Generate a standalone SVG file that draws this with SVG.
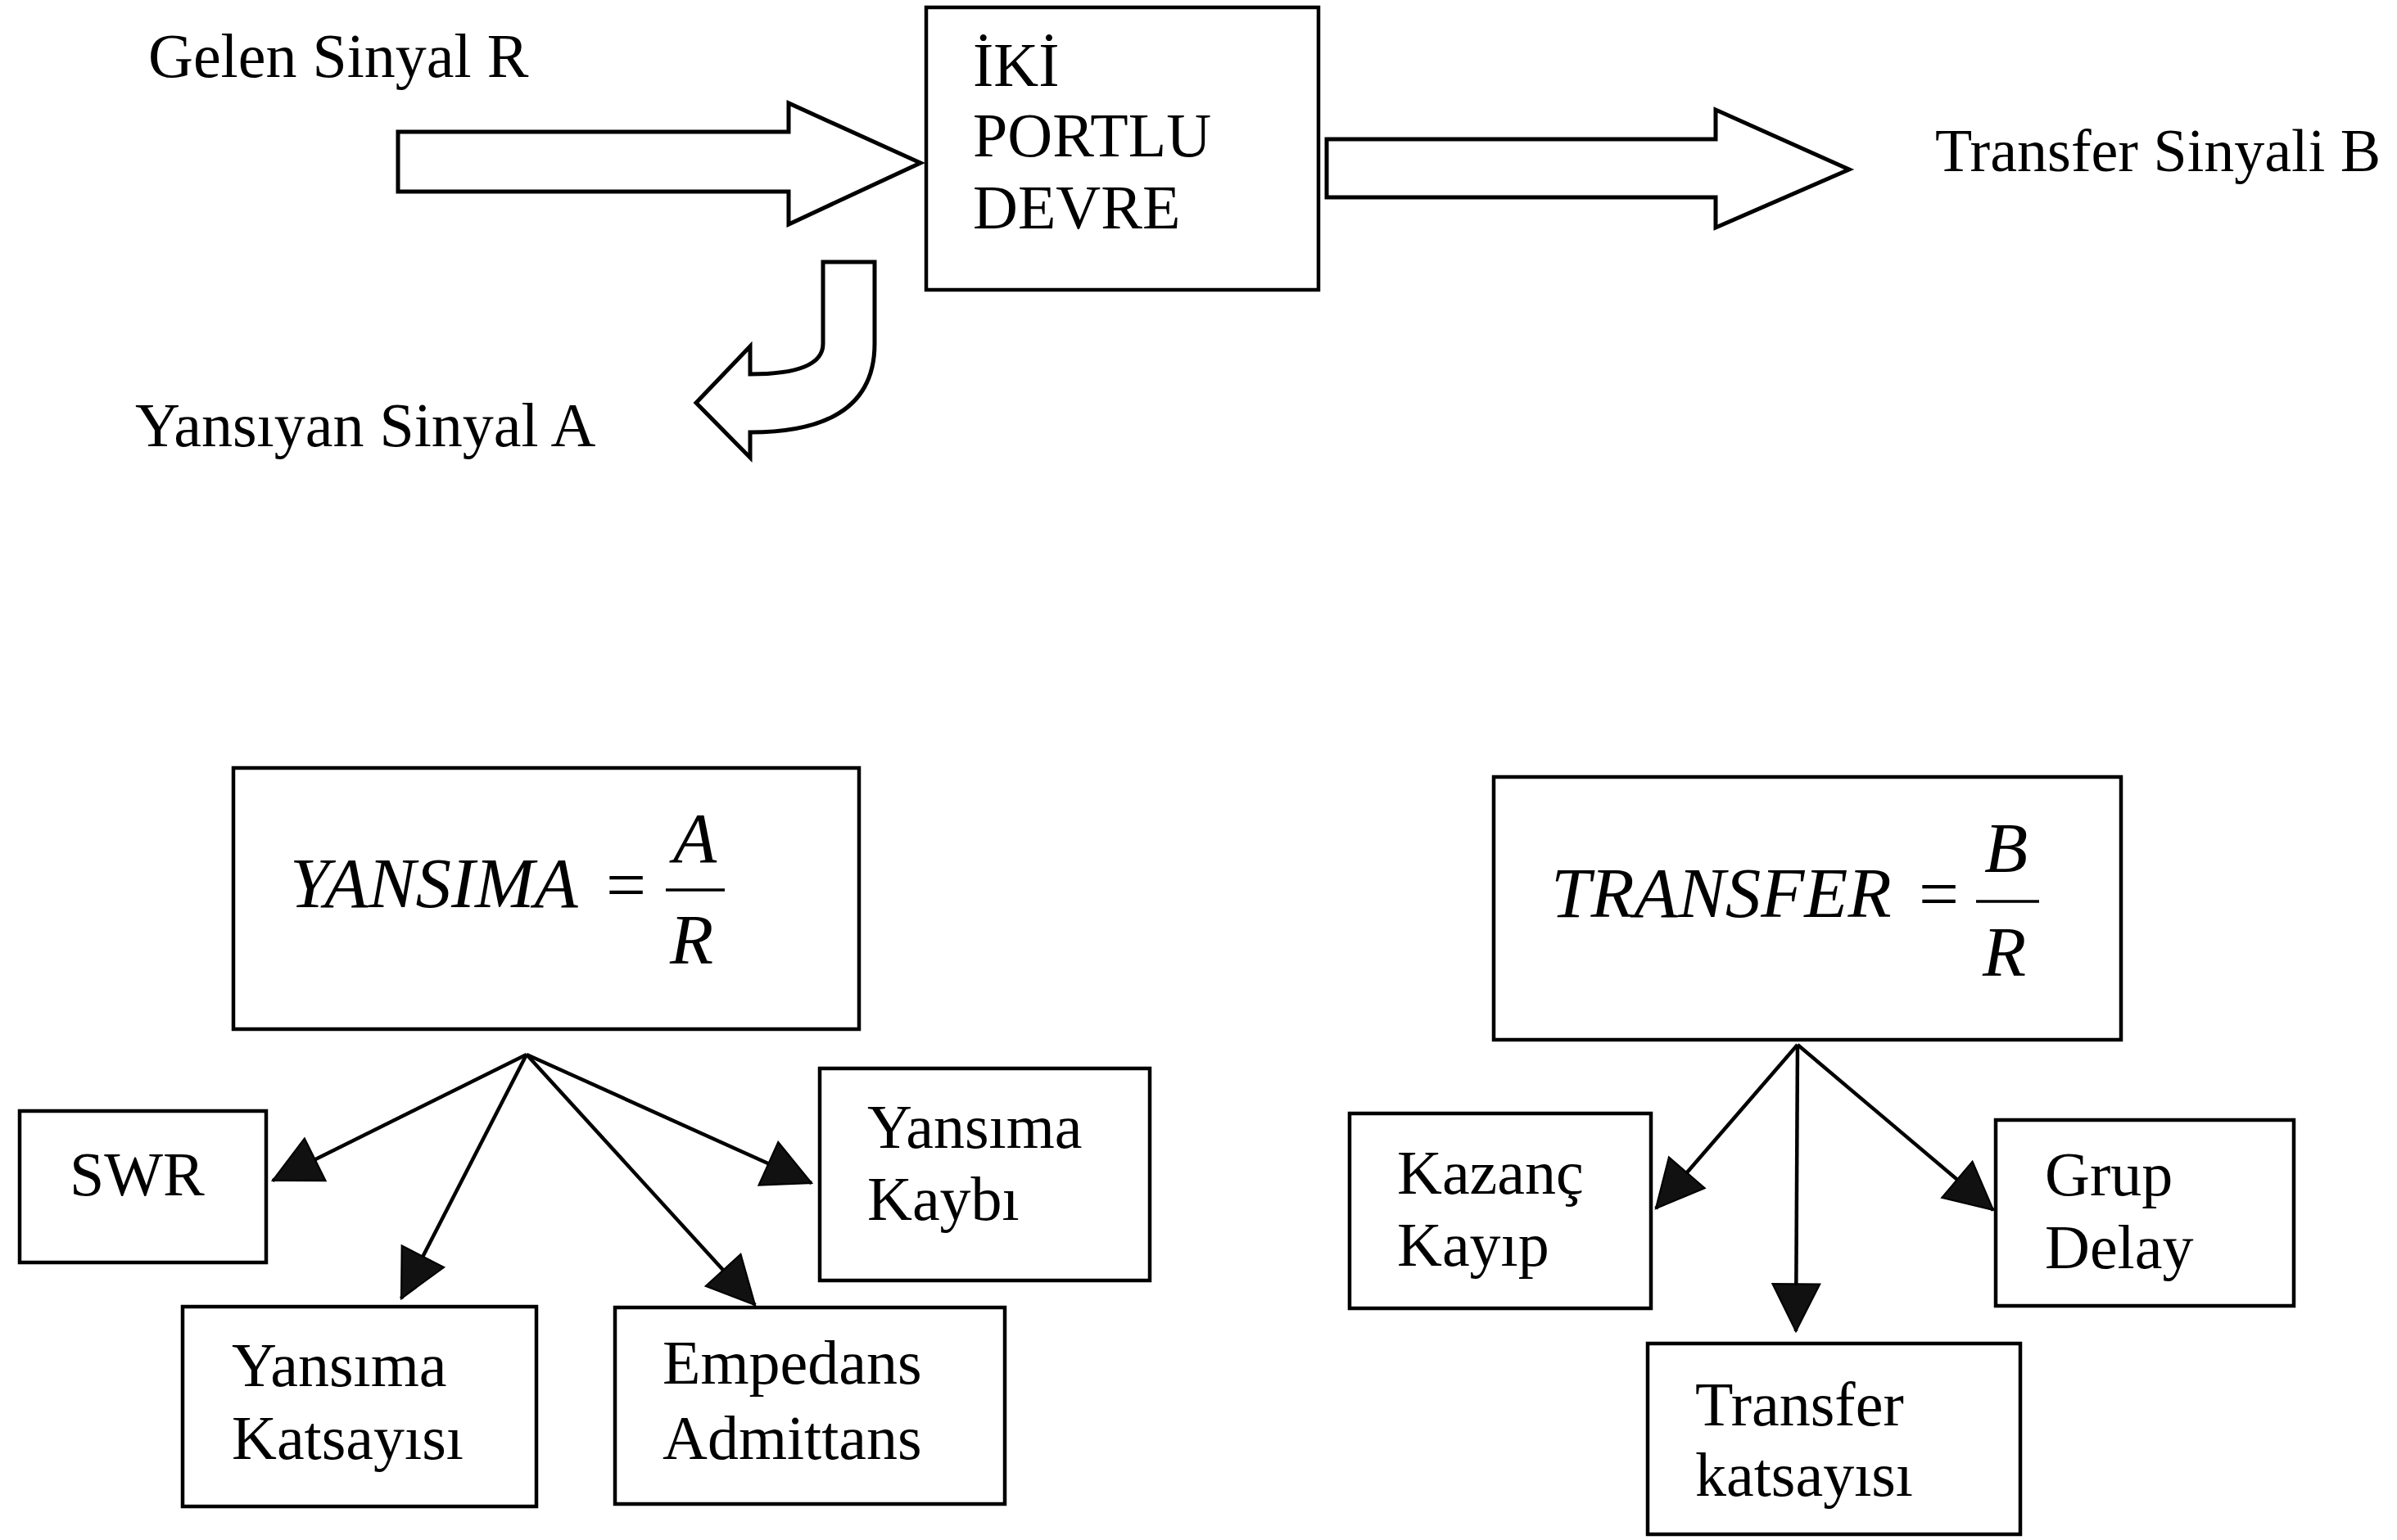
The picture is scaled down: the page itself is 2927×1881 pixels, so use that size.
<svg xmlns="http://www.w3.org/2000/svg" width="2927" height="1881" viewBox="0 0 2927 1881">
<style>
.box{fill:#fff;stroke:#000;stroke-width:4.5}
.blk{fill:#fff;stroke:#000;stroke-width:5;stroke-linejoin:miter}
.t{font-family:"Liberation Serif","Times New Roman",serif;font-size:76px;fill:#000}
.m{font-family:"Liberation Serif","Times New Roman",serif;font-size:87px;font-style:italic;fill:#000}
.eq{font-family:"Liberation Serif","Times New Roman",serif;font-size:87px;fill:#000}
.c{stroke:#000;stroke-width:4.5;fill:none}
.fr{stroke:#000;stroke-width:3.5}
</style>
<defs>
<marker id="ah" markerUnits="userSpaceOnUse" markerWidth="62" markerHeight="62" viewBox="0 0 58 58" refX="56" refY="29" orient="auto">
<path d="M2,2 L56,29 L2,56 Z" fill="#111" stroke="#000" stroke-width="2"/>
</marker>
</defs>

<g id="label-gelen"><text class="t" x="181" y="94">Gelen Sinyal R</text></g>
<g id="label-yansiyan"><text class="t" x="165" y="545">Yansıyan Sinyal A</text></g>
<g id="label-transfer-b"><text class="t" x="2363" y="209" style="font-size:74px">Transfer Sinyali B</text></g>

<g id="node-iki-portlu">
<rect class="box" x="1131" y="9" width="479" height="345"/>
<text class="t" x="1188" y="105">İKİ</text>
<text class="t" x="1188" y="191">PORTLU</text>
<text class="t" x="1188" y="279">DEVRE</text>
</g>

<g id="node-yansima">
<rect class="box" x="285" y="938" width="764" height="319"/>
<text class="m" x="354" y="1108">YANSIMA</text>
<text class="eq" x="740" y="1110">=</text>
<line class="fr" x1="813" y1="1087" x2="885" y2="1087"/>
<text class="m" x="822" y="1053">A</text>
<text class="m" x="818" y="1177">R</text>
</g>

<g id="node-transfer">
<rect class="box" x="1824" y="949" width="766" height="321"/>
<text class="m" x="1894" y="1120">TRANSFER</text>
<text class="eq" x="2343" y="1121">=</text>
<line class="fr" x1="2413" y1="1101" x2="2490" y2="1101"/>
<text class="m" x="2423" y="1065">B</text>
<text class="m" x="2421" y="1192">R</text>
</g>

<g id="node-swr">
<rect class="box" x="24" y="1357" width="301" height="185"/>
<text class="t" x="85" y="1460">SWR</text>
</g>

<g id="node-yansima-kaybi">
<rect class="box" x="1001" y="1305" width="403" height="259"/>
<text class="t" x="1059" y="1402">Yansıma</text>
<text class="t" x="1059" y="1490">Kaybı</text>
</g>

<g id="node-yansima-katsayisi">
<rect class="box" x="223" y="1596" width="432" height="244"/>
<text class="t" x="283" y="1693">Yansıma</text>
<text class="t" x="283" y="1782">Katsayısı</text>
</g>

<g id="node-empedans">
<rect class="box" x="751" y="1597" width="476" height="240"/>
<text class="t" x="809" y="1690">Empedans</text>
<text class="t" x="809" y="1782">Admittans</text>
</g>

<g id="node-kazanc">
<rect class="box" x="1648" y="1360" width="368" height="238"/>
<text class="t" x="1706" y="1458">Kazanç</text>
<text class="t" x="1706" y="1546">Kayıp</text>
</g>

<g id="node-grup">
<rect class="box" x="2437" y="1368" width="364" height="227"/>
<text class="t" x="2497" y="1460">Grup</text>
<text class="t" x="2497" y="1549">Delay</text>
</g>

<g id="node-transfer-katsayisi">
<rect class="box" x="2012" y="1641" width="455" height="233"/>
<text class="t" x="2070" y="1741">Transfer</text>
<text class="t" x="2070" y="1827">katsayısı</text>
</g>

<g id="connectors">
<path class="blk" d="M486,161 L963,161 L963,126 L1124,199 L963,274 L963,234 L486,234 Z"/>
<path class="blk" d="M1620,170 L2095,170 L2095,134 L2258,207 L2095,278 L2095,241 L1620,241 Z"/>
<path class="blk" d="M1005,320 L1068,320 L1068,420 Q1068,528 916,528 L916,559 L850,492 L916,423 L916,457 Q1005,457 1005,420 Z"/>
<line class="c" x1="643" y1="1288" x2="333" y2="1442" marker-end="url(#ah)"/>
<line class="c" x1="643" y1="1288" x2="490" y2="1586" marker-end="url(#ah)"/>
<line class="c" x1="643" y1="1288" x2="922" y2="1594" marker-end="url(#ah)"/>
<line class="c" x1="643" y1="1288" x2="991" y2="1445" marker-end="url(#ah)"/>
<line class="c" x1="2195" y1="1276" x2="2022" y2="1476" marker-end="url(#ah)"/>
<line class="c" x1="2195" y1="1276" x2="2193" y2="1626" marker-end="url(#ah)"/>
<line class="c" x1="2195" y1="1276" x2="2434" y2="1478" marker-end="url(#ah)"/>
</g>
</svg>
